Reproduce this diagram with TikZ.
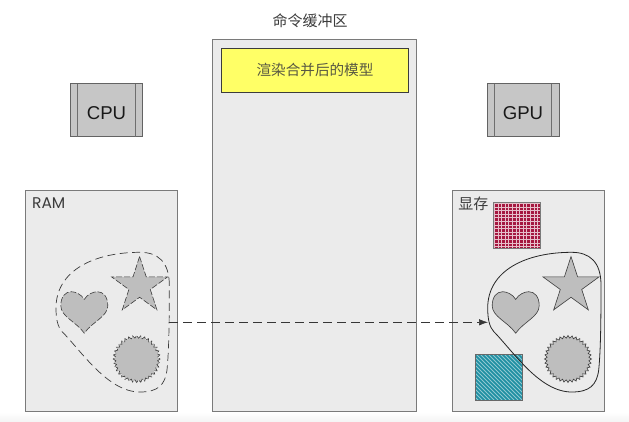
\documentclass[tikz,border=0pt]{standalone}
\usepackage{fontspec}
\setmainfont{Liberation Sans}
\newfontfamily\cjk{Noto Sans CJK SC}
\newfontfamily\geo{Poppins}
\usetikzlibrary{arrows.meta}
\definecolor{panel}{HTML}{EBEBEB}
\definecolor{edge}{HTML}{7A7A7A}
\definecolor{chip}{HTML}{C6C6C6}
\definecolor{shape}{HTML}{BEBEBE}
\definecolor{ink}{HTML}{3C3C3C}
\definecolor{lemon}{HTML}{FFFF66}
\definecolor{crimson}{HTML}{A5173F}
\definecolor{teal2}{HTML}{1E8FA2}
\tikzset{
  panelbox/.style={draw=edge,fill=panel,line width=0.9pt},
  chipbox/.style={draw=ink!80,fill=chip,line width=0.7pt},
  chipline/.style={draw=edge!90!black,line width=1pt},
  solidshape/.style={draw=ink,fill=shape,line width=0.6pt},
  dashshape/.style={draw=ink,fill=shape,line width=0.6pt,dash pattern=on 6pt off 2pt},
  blobsolid/.style={draw=black!85,line width=0.8pt},
  blobdash/.style={draw=ink,line width=0.7pt,dash pattern=on 8pt off 4.5pt},
  label/.style={inner sep=0pt,text=ink},
}
\newcommand{\starpath}{(0,-29.5) -- (6.62,-9.12) -- (28.06,-9.12) -- (10.72,3.48) -- (17.34,23.87) -- (0,11.27) -- (-17.34,23.87) -- (-10.72,3.48) -- (-28.06,-9.12) -- (-6.62,-9.12) -- cycle}
\newcommand{\heartpath}{(0,7.7) .. controls (3,2.5) and (9,0) .. (13,0) .. controls (19,0) and (23.5,5) .. (23.5,14) .. controls (23.5,25) and (8,30) .. (0,41.5) .. controls (-8,30) and (-23.5,25) .. (-23.5,14) .. controls (-23.5,5) and (-19,0) .. (-13,0) .. controls (-9,0) and (-3,2.5) .. (0,7.7) -- cycle}
\newcommand{\sealpath}{plot[domain=0:355,samples=72] (\x:{22.2+1.3*cos(36*\x)}) -- cycle}
\newcommand{\blobpath}{(169.3,285) .. controls (169.3,262) and (158,252.3) .. (140,252.3) .. controls (95,252.3) and (56,270) .. (56,308) .. controls (56,320) and (58,327) .. (62,331.5) .. controls (82,352) and (108,392) .. (140,392) .. controls (158,392) and (165,385) .. (167,370) .. controls (169,350) and (169.3,320) .. (169.3,285) -- cycle}
\begin{document}
\begin{tikzpicture}[x=1pt,y=-1pt]
\useasboundingbox (0,0) rectangle (629,421);
\fill[white] (0,0) rectangle (629,421);
\shade[top color=white,bottom color=black!4] (0,412) rectangle (629,421);
% panels
\path[panelbox] (25.7,190) rectangle (177,411.7);
\path[panelbox] (212.7,39.5) rectangle (416.7,411.7);
\path[panelbox] (452.3,190) rectangle (604,411.7);
% buffer
\node[label,font=\cjk\fontsize{15}{15}\selectfont] (buf) at (310,21) {命令缓冲区};
\node[draw=ink,fill=lemon,line width=0.6pt,minimum width=186.6pt,minimum height=44.7pt,inner sep=0pt,text=ink!85!lemon,font=\cjk\fontsize{14.6}{15}\selectfont] (merged) at (315,70.3) {渲染合并后的模型};
% chips
\path[chipbox] (70.7,83.5) rectangle (142.3,136.7);
\draw[chipline] (77.3,83.5) -- (77.3,136.7) (135,83.5) -- (135,136.7);
\node[label,text=black!90,font=\fontsize{18.6}{19}\selectfont] (cpu) at (106.5,113) {CPU};
\path[chipbox] (487.3,83.5) rectangle (559,136.7);
\draw[chipline] (494.7,83.5) -- (494.7,136.7) (551.7,83.5) -- (551.7,136.7);
\node[label,text=black!90,font=\fontsize{18.6}{19}\selectfont] (gpu) at (523,113) {GPU};
% labels
\node[label,font=\geo\fontsize{15.5}{15}\selectfont] (ram) at (48.7,202.7) {RAM};
\node[label,font=\cjk\fontsize{15}{15}\selectfont] (vram) at (473.3,204) {显存};
% RAM shapes
\begin{scope}[shift={(139.6,286)}]\path[dashshape] \starpath;\end{scope}
\begin{scope}[shift={(84.3,291.7)}]\path[dashshape] \heartpath;\end{scope}
\begin{scope}[shift={(136.7,359)}]\path[dashshape] \sealpath;\end{scope}
\path[blobdash] \blobpath;
% VRAM shapes
\begin{scope}[shift={(571,286)}]\path[solidshape] \starpath;\end{scope}
\begin{scope}[shift={(515.7,291.7)}]\path[solidshape] \heartpath;\end{scope}
\begin{scope}[shift={(568,359)}]\path[solidshape] \sealpath;\end{scope}
% red square
\begin{scope}
\clip (493.3,202.3) rectangle (540,248.3);
\fill[crimson] (493.3,202.3) rectangle (540,248.3);
\foreach \k in {0,...,13}{
  \draw[white!72!crimson,line width=0.9pt] ({494.5+3.6*\k},200) -- ({494.5+3.6*\k},250);
  \draw[white!72!crimson,line width=0.9pt] (490,{203.5+3.6*\k}) -- (542,{203.5+3.6*\k});
}
\end{scope}
\draw[edge,line width=0.8pt] (493.3,202.3) rectangle (540,248.3);
% teal square
\begin{scope}
\clip (475.7,354) rectangle (522.3,400);
\fill[teal2] (475.7,354) rectangle (522.3,400);
\foreach \k in {-17,...,17}{
  \draw[white!50!teal2,line width=1pt] ({499+4*\k-26},351) -- ({499+4*\k+26},403);
}
\end{scope}
\draw[edge!85!black,line width=1pt] (475.7,354) rectangle (522.3,400);
% blob
\begin{scope}[shift={(431.7,0)}]\path[blobsolid] \blobpath;\end{scope}
% connector
\coordinate (ramedge) at (169.3,322.3);
\coordinate (vramedge) at (488,322.3);
\draw[ink!90!black,line width=0.7pt,dash pattern=on 9pt off 5pt,-{Latex[length=9pt,width=6.5pt]}] (ramedge) -- (vramedge);
\end{tikzpicture}
\end{document}
